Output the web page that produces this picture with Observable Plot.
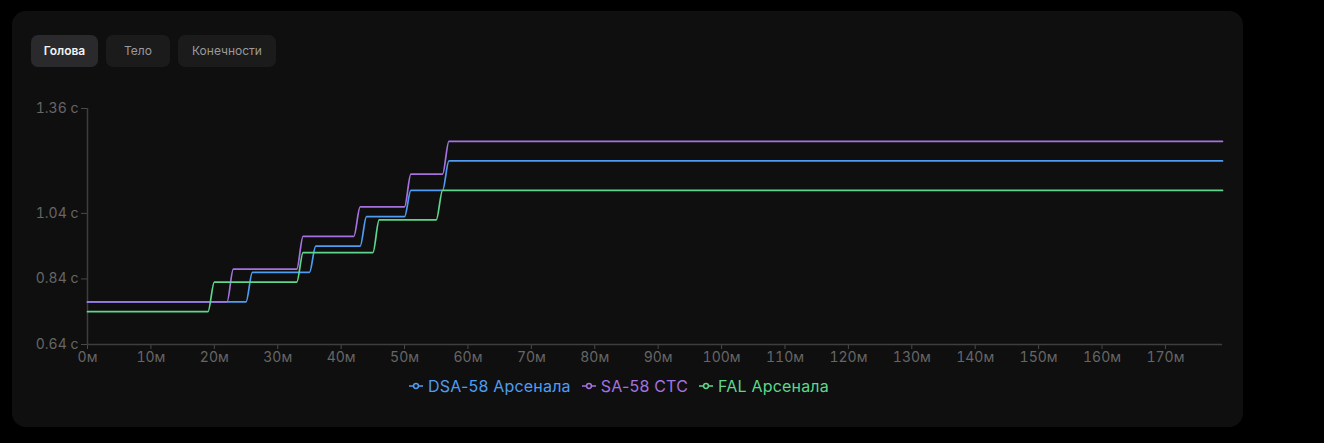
<!DOCTYPE html>
<html>
<head>
<meta charset="utf-8">
<script src="https://cdn.jsdelivr.net/npm/d3@7"></script>
<script src="https://cdn.jsdelivr.net/npm/@observablehq/plot@0.6"></script>
<style>
  html, body { margin: 0; padding: 0; background: #000; }
  body { width: 1324px; height: 443px; overflow: hidden; font-family: Inter, "Noto Sans", sans-serif; }
  #card { position: absolute; left: 12px; top: 11px; width: 1231px; height: 416px; background: #0f0f0f; border-radius: 14px; }
  .tab { position: absolute; top: 24px; height: 32px; border-radius: 7px; font-size: 12px; line-height: 32px; text-align: center; background: #1b1b1b; color: #9a9a9a; }
  .tab.active { background: #2a2a2c; color: #f2f2f2; font-weight: 600; }
  #chart { position: absolute; left: 20px; top: 79px; }
  #legend { position: absolute; left: 20px; top: 363px; width: 1200px; box-sizing: border-box; padding-right: 26px; text-align: center; font-size: 16px; letter-spacing: 0.2px; }
  .li { display: inline-flex; align-items: center; margin: 0 5.5px; }
  .li svg { margin-right: 5px; }
</style>
</head>
<body>
<div id="card">
  <div class="tab active" style="left:19px;width:67px">Голова</div>
  <div class="tab" style="left:94px;width:64px">Тело</div>
  <div class="tab" style="left:166px;width:98px">Конечности</div>
  <div id="chart"></div>
  <div id="legend"></div>
</div>
<script>
const seriesNames = ["DSA-58 Арсенала", "SA-58 СТС", "FAL Арсенала"];
const seriesColors = ["#4f9cf2", "#a572e0", "#5ed68c"];

// distance (m) and time-to-kill (s) breakpoints per series
const dsaDist = [0, 25, 26, 35, 36, 43, 44, 50, 51, 56, 57, 179];
const dsaTtk  = [0.77, 0.77, 0.86, 0.86, 0.94, 0.94, 1.03, 1.03, 1.11, 1.11, 1.20, 1.20];
const saDist  = [0, 22, 23, 33, 34, 42, 43, 50, 51, 56, 57, 179];
const saTtk   = [0.77, 0.77, 0.87, 0.87, 0.97, 0.97, 1.06, 1.06, 1.16, 1.16, 1.26, 1.26];
const falDist = [0, 19, 20, 33, 34, 45, 46, 55, 56, 179];
const falTtk  = [0.74, 0.74, 0.83, 0.83, 0.92, 0.92, 1.02, 1.02, 1.11, 1.11];

const xTicks = [0, 10, 20, 30, 40, 50, 60, 70, 80, 90, 100, 110, 120, 130, 140, 150, 160, 170];
const yTicks = [0.64, 0.84, 1.04, 1.36];
const xDomain = [0, 179];
const yDomain = [0.64, 1.36];

const dists = [dsaDist, saDist, falDist];
const ttks = [dsaTtk, saTtk, falTtk];
const rows = [];
seriesNames.forEach((name, i) => {
  dists[i].forEach((d, j) => rows.push({series: name, dist: d, ttk: ttks[i][j]}));
});

const chart = Plot.plot({
  width: 1200,
  height: 285,
  marginLeft: 55,
  marginRight: 10,
  marginTop: 18,
  marginBottom: 31,
  style: {background: "transparent", fontFamily: "Inter, 'Noto Sans', sans-serif", fontSize: "14px", color: "#666"},
  x: {domain: xDomain},
  y: {domain: yDomain},
  color: {domain: seriesNames, range: seriesColors},
  marks: [
    Plot.axisX({ticks: xTicks, tickFormat: d => d + "м", tickSize: 5, tickPadding: 3, stroke: "#4a4a4a", fill: "#666", fontSize: 14, label: null}),
    Plot.axisY({ticks: yTicks, tickFormat: d => d.toFixed(2) + " с", tickSize: 6, tickPadding: 3, stroke: "#4a4a4a", fill: "#666", fontSize: 14, label: null}),
    Plot.ruleY([yDomain[0]], {stroke: "#3e3e3e", strokeWidth: 1.5}),
    Plot.ruleX([xDomain[0]], {stroke: "#3e3e3e", strokeWidth: 1.5}),
    Plot.line(rows, {x: "dist", y: "ttk", z: "series", stroke: "series", curve: "monotone-x", strokeWidth: 1.7})
  ]
});
document.getElementById("chart").appendChild(chart);

const legend = document.getElementById("legend");
seriesNames.forEach((name, i) => {
  const c = seriesColors[i];
  const item = document.createElement("span");
  item.className = "li";
  item.style.color = c;
  item.innerHTML = `<svg width="14" height="8"><line x1="0" y1="4" x2="14" y2="4" stroke="${c}" stroke-width="1.5"/><circle cx="7" cy="4" r="2.4" fill="#0f0f0f" stroke="${c}" stroke-width="1.5"/></svg>${name}`;
  legend.appendChild(item);
});
</script>
</body>
</html>
